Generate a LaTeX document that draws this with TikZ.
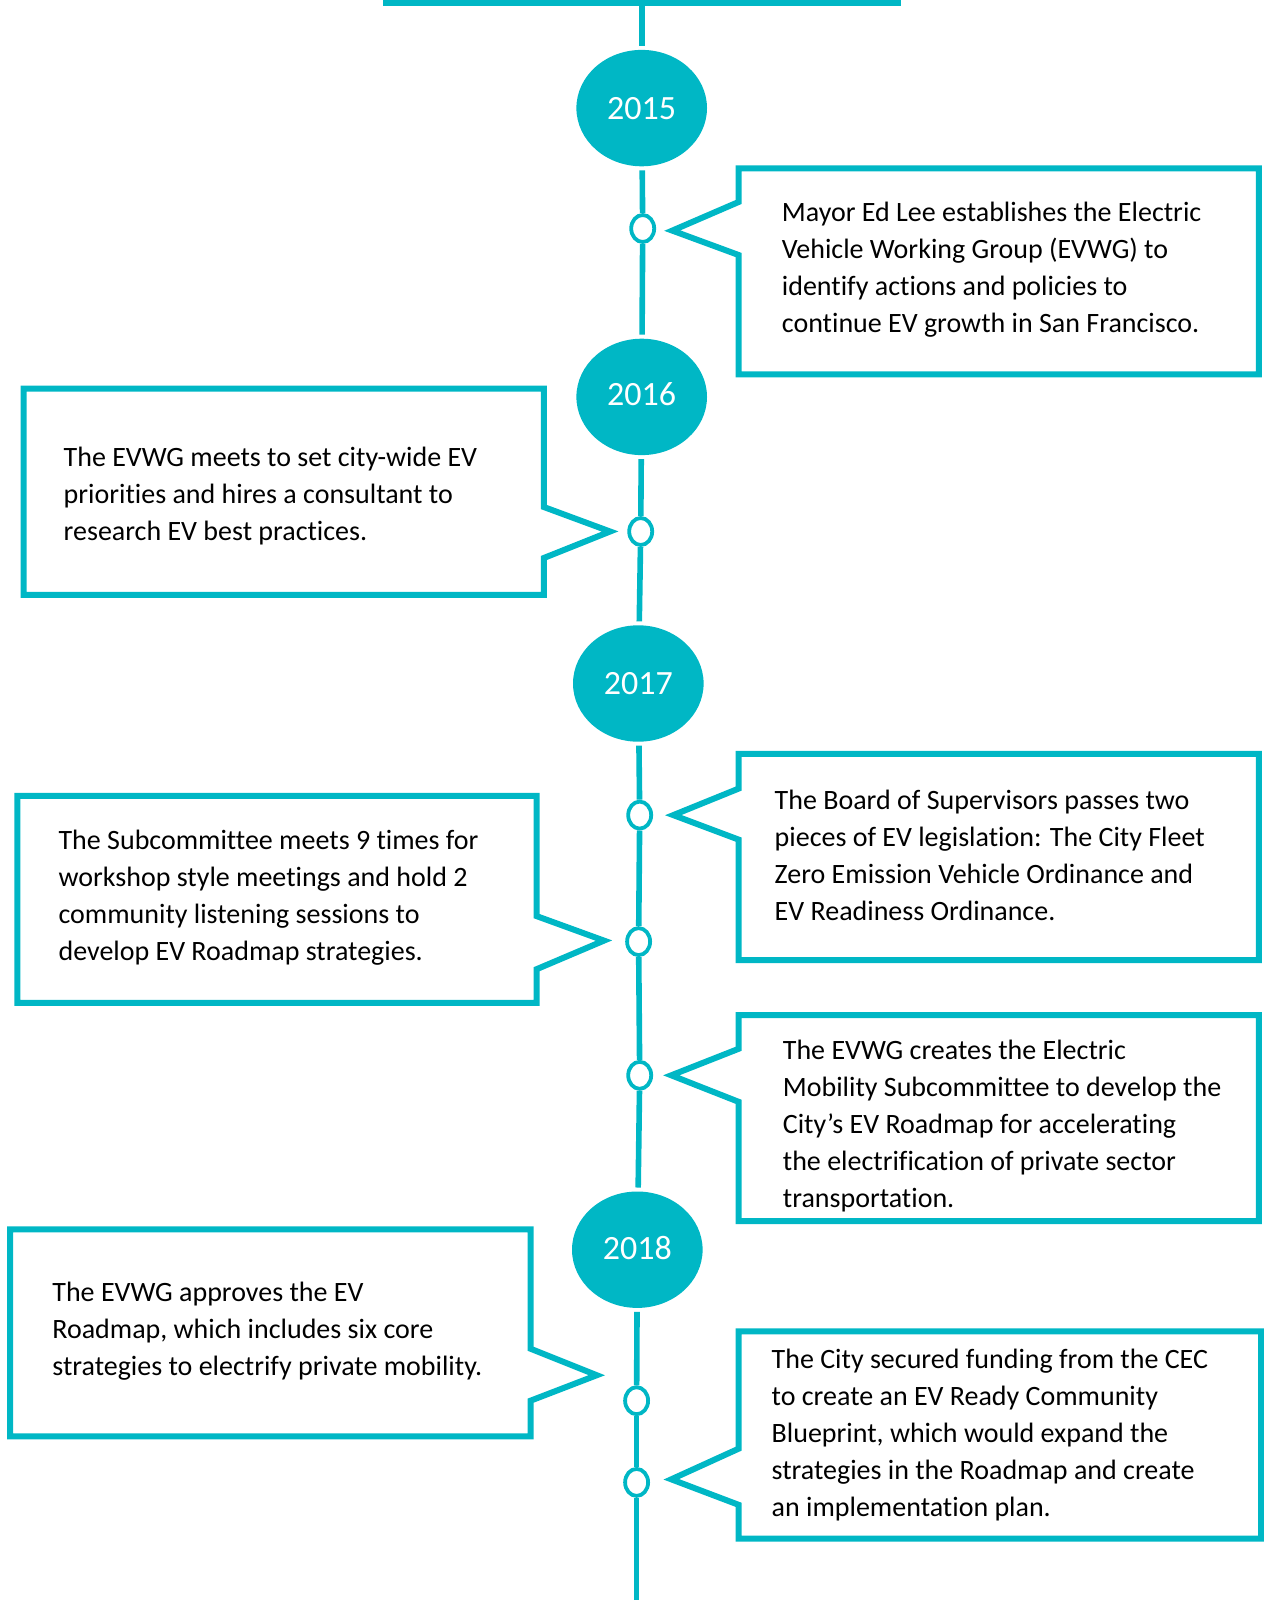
\documentclass[tikz,border=0pt]{standalone}
\usepackage{fontspec}
\setmainfont[Ligatures=NoCommon]{Carlito}
\usetikzlibrary{shapes.geometric}
\definecolor{teal1}{RGB}{0,183,197}
\begin{document}
\begin{tikzpicture}[x=0.5pt,y=-0.5pt,
  yearnode/.style={ellipse, fill=teal1, minimum width=65.3pt, minimum height=58.2pt, inner sep=0pt, outer sep=2pt, text=white, font=\fontsize{17}{17}\selectfont},
  dotnode/.style={ellipse, draw=teal1, line width=1.9pt, fill=white, minimum width=11.5pt, minimum height=13.5pt, inner sep=0pt},
  tline/.style={draw=teal1, line width=2.8pt},
  callout/.style={draw=teal1, line width=3pt, line join=miter, miter limit=10},
  txt/.style={anchor=west, align=left, inner sep=0pt, font=\fontsize{14}{18.5}\selectfont}
]
\useasboundingbox (0,0) rectangle (1263,1600);
\fill[teal1] (382.6,0) rectangle (900.8,6);
\coordinate (top) at (641.7,6);
\coordinate (bot) at (636.6,1600);

% year ellipses
\node[yearnode] (y15) at (641.7,108.1) {2015};
\node[yearnode] (y16) at (641.7,396.9) {\raisebox{3pt}{2016}};
\node[yearnode] (y17) at (638.3,683.5) {\raisebox{-1pt}{2017}};
\node[yearnode] (y18) at (637.3,1249.7) {\raisebox{1.5pt}{2018}};

% event dots
\node[dotnode] (d1) at (642.7,228.5) {};
\node[dotnode] (d2) at (640.7,531.5) {};
\node[dotnode] (d3) at (639.7,815.1) {};
\node[dotnode] (d4) at (638.6,941.6) {};
\node[dotnode] (d5) at (639.7,1075.3) {};
\node[dotnode] (d6) at (636.6,1400.7) {};
\node[dotnode] (d7) at (636.6,1482.4) {};

% timeline
\draw[tline] (top) -- (y15);
\draw[tline] (y15) -- (d1);
\draw[tline] (d1) -- (y16);
\draw[tline] (y16) -- (d2);
\draw[tline] (d2) -- (y17);
\draw[tline] (y17) -- (d3);
\draw[tline] (d3) -- (d4);
\draw[tline] (d4) -- (d5);
\draw[tline] (d5) -- (y18);
\draw[tline] (y18) -- (d6);
\draw[tline] (d6) -- (d7);
\draw[tline] (d7) -- (bot);

% callouts
\draw[callout] (738.6,202) -- (738.6,168.3) -- (1258.9,168.3) -- (1258.9,374.4) -- (738.6,374.4) -- (738.6,255) -- (672.3,230.6) -- cycle;
\draw[callout] (543.8,507) -- (543.8,388.7) -- (23.5,388.7) -- (23.5,594.8) -- (543.8,594.8) -- (543.8,558) -- (610.1,531.5) -- cycle;
\draw[callout] (738.6,788.6) -- (738.6,753.9) -- (1258.9,753.9) -- (1258.9,960) -- (738.6,960) -- (738.6,839.6) -- (673.3,815.1) -- cycle;
\draw[callout] (536.6,916.1) -- (536.6,795.8) -- (17.3,795.8) -- (17.3,1002.9) -- (536.6,1002.9) -- (536.6,969.2) -- (604,940.6) -- cycle;
\draw[callout] (738.6,1048.8) -- (738.6,1015.1) -- (1258.9,1015.1) -- (1258.9,1221.2) -- (738.6,1221.2) -- (738.6,1101.8) -- (671.3,1075.3) -- cycle;
\draw[callout] (530.5,1348.7) -- (530.5,1229.3) -- (10.2,1229.3) -- (10.2,1436.4) -- (530.5,1436.4) -- (530.5,1400.7) -- (596.8,1375.2) -- cycle;
\draw[callout] (738.6,1448.7) -- (738.6,1331.4) -- (1261,1331.4) -- (1261,1538.5) -- (738.6,1538.5) -- (738.6,1504.8) -- (671.3,1479.3) -- cycle;

% texts
\node[txt] (tA) at (781.5,270) {Mayor Ed Lee establishes the Electric\\Vehicle Working Group (EVWG) to\\identify actions and policies to\\continue EV growth in San Francisco.};
\node[txt] (tB) at (63.3,496.3) {The EVWG meets to set city-wide EV\\priorities and hires a consultant to\\research EV best practices.};
\node[txt] (tC) at (774.3,855.4) {The Board of Supervisors passes two\\pieces of EV legislation: The City Fleet\\Zero Emission Vehicle Ordinance and\\EV Readiness Ordinance.};
\node[txt] (tD) at (58.2,897.5) {The Subcommittee meets 9 times for\\workshop style meetings and hold 2\\community listening sessions to\\develop EV Roadmap strategies.};
\node[txt] (tE) at (782.5,1126) {The EVWG creates the Electric\\Mobility Subcommittee to develop the\\City’s EV Roadmap for accelerating\\the electrification of private sector\\transportation.};
\node[txt] (tF) at (52,1331) {The EVWG approves the EV\\Roadmap, which includes six core\\strategies to electrify private mobility.};
\node[txt] (tG) at (771.3,1435) {The City secured funding from the CEC\\to create an EV Ready Community\\Blueprint, which would expand the\\strategies in the Roadmap and create\\an implementation plan.};
\end{tikzpicture}
\end{document}
